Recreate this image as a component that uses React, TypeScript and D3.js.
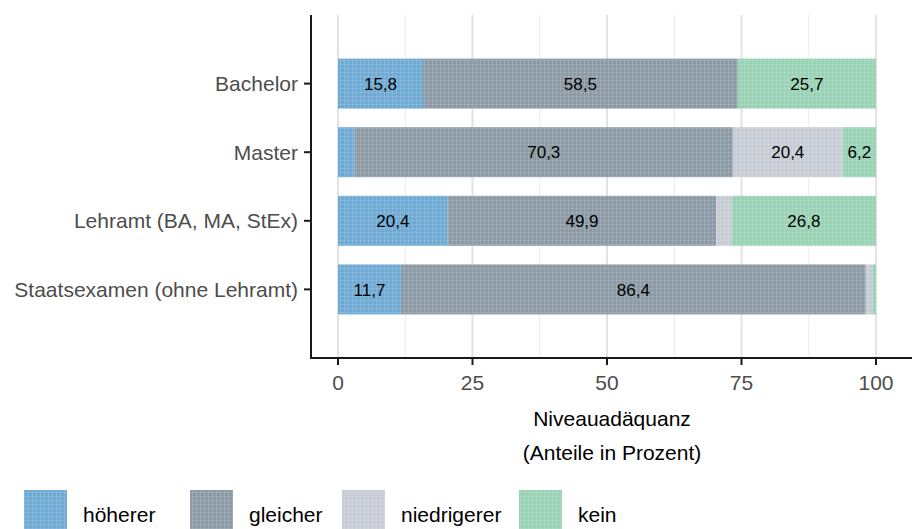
import React from "react";
import * as d3 from "d3";

const categories = ["Bachelor", "Master", "Lehramt (BA, MA, StEx)", "Staatsexamen (ohne Lehramt)"];
const seriesNames = ["höherer", "gleicher", "niedrigerer", "kein"];
const hoeherer = [15.8, 3.1, 20.4, 11.7];
const gleicher = [58.5, 70.3, 49.9, 86.4];
const niedrigerer = [0, 20.4, 2.9, 1.2];
const kein = [25.7, 6.2, 26.8, 0.7];
const xTicks = [0, 25, 50, 75, 100];
const xMinor = [12.5, 37.5, 62.5, 87.5];
const colors = ["#6faad3", "#8c9aa5", "#c6cbd4", "#99d2b5"];

const W = 912;
const H = 529;
const panel = { left: 311, right: 912, top: 15, bottom: 358 };
const font = "Liberation Sans, Arial, sans-serif";

export default function App() {
  const x = d3.scaleLinear().domain([0, 100]).range([338, 876]);
  const y = d3.scalePoint<string>().domain(categories).range([panel.top, panel.bottom]).padding(1);
  const barH = 50;
  const values = [hoeherer, gleicher, niedrigerer, kein];

  const rows = categories.map((c, i) => {
    const vals = values.map((s) => s[i]);
    const starts = d3.cumsum([0, ...vals]);
    return { c, vals, starts };
  });

  const legendX = [24, 190, 342, 519];

  return (
    <svg width={W} height={H} style={{ position: "absolute", left: 0, top: 0, background: "#fff" }}>
      <defs>
        {colors.map((col, k) => (
          <pattern key={k} id={`tex${k}`} width={4} height={4} patternUnits="userSpaceOnUse">
            <rect width={4} height={4} fill={col} />
            <path d="M0 0.5H4M0.5 0V4" stroke="#ffffff" strokeOpacity={0.12} strokeWidth={1} />
          </pattern>
        ))}
      </defs>
      {xMinor.map((t) => (
        <line key={"m" + t} x1={x(t)} x2={x(t)} y1={panel.top} y2={panel.bottom} stroke="#ebebeb" strokeWidth={1} />
      ))}
      {xTicks.map((t) => (
        <line key={"g" + t} x1={x(t)} x2={x(t)} y1={panel.top} y2={panel.bottom} stroke="#e3e3e3" strokeWidth={2} />
      ))}
      {rows.map((r) =>
        r.vals.map((v, k) =>
          v > 0 ? (
            <rect
              key={r.c + k}
              x={x(r.starts[k])}
              y={(y(r.c) as number) - barH / 2}
              width={x(r.starts[k] + v) - x(r.starts[k])}
              height={barH}
              fill={`url(#tex${k})`}
            />
          ) : null
        )
      )}
      {rows.map((r) =>
        r.vals.map((v, k) =>
          v >= 5 ? (
            <text
              key={"t" + r.c + k}
              x={x(r.starts[k] + v / 2)}
              y={y(r.c) as number}
              dy="0.36em"
              textAnchor="middle"
              fontFamily={font}
              fontSize={17}
              fill="#000"
            >
              {v.toFixed(1).replace(".", ",")}
            </text>
          ) : null
        )
      )}
      <line x1={panel.left} x2={panel.left} y1={panel.top} y2={panel.bottom + 1} stroke="#1a1a1a" strokeWidth={2} />
      <line x1={panel.left - 1} x2={panel.right} y1={panel.bottom} y2={panel.bottom} stroke="#1a1a1a" strokeWidth={2} />
      {categories.map((c) => (
        <g key={"y" + c}>
          <line x1={panel.left - 7} x2={panel.left} y1={y(c)} y2={y(c)} stroke="#1a1a1a" strokeWidth={2} />
          <text
            x={panel.left - 13}
            y={y(c)}
            dy="0.36em"
            textAnchor="end"
            fontFamily={font}
            fontSize={21}
            fill="#4d4d4d"
          >
            {c}
          </text>
        </g>
      ))}
      {xTicks.map((t) => (
        <g key={"x" + t}>
          <line x1={x(t)} x2={x(t)} y1={panel.bottom} y2={panel.bottom + 7} stroke="#1a1a1a" strokeWidth={2} />
          <text x={x(t)} y={panel.bottom + 24} dy="0.36em" textAnchor="middle" fontFamily={font} fontSize={21} fill="#4d4d4d">
            {t}
          </text>
        </g>
      ))}
      <text x={612} y={418} dy="0.36em" textAnchor="middle" fontFamily={font} fontSize={21} fill="#000">
        Niveauadäquanz
      </text>
      <text x={612} y={452} dy="0.36em" textAnchor="middle" fontFamily={font} fontSize={21} fill="#000">
        (Anteile in Prozent)
      </text>
      {seriesNames.map((n, k) => (
        <g key={"l" + n}>
          <rect x={legendX[k]} y={490} width={43} height={43} fill={`url(#tex${k})`} />
          <text x={legendX[k] + 59} y={514} dy="0.36em" fontFamily={font} fontSize={21} fill="#000">
            {n}
          </text>
        </g>
      ))}
    </svg>
  );
}
